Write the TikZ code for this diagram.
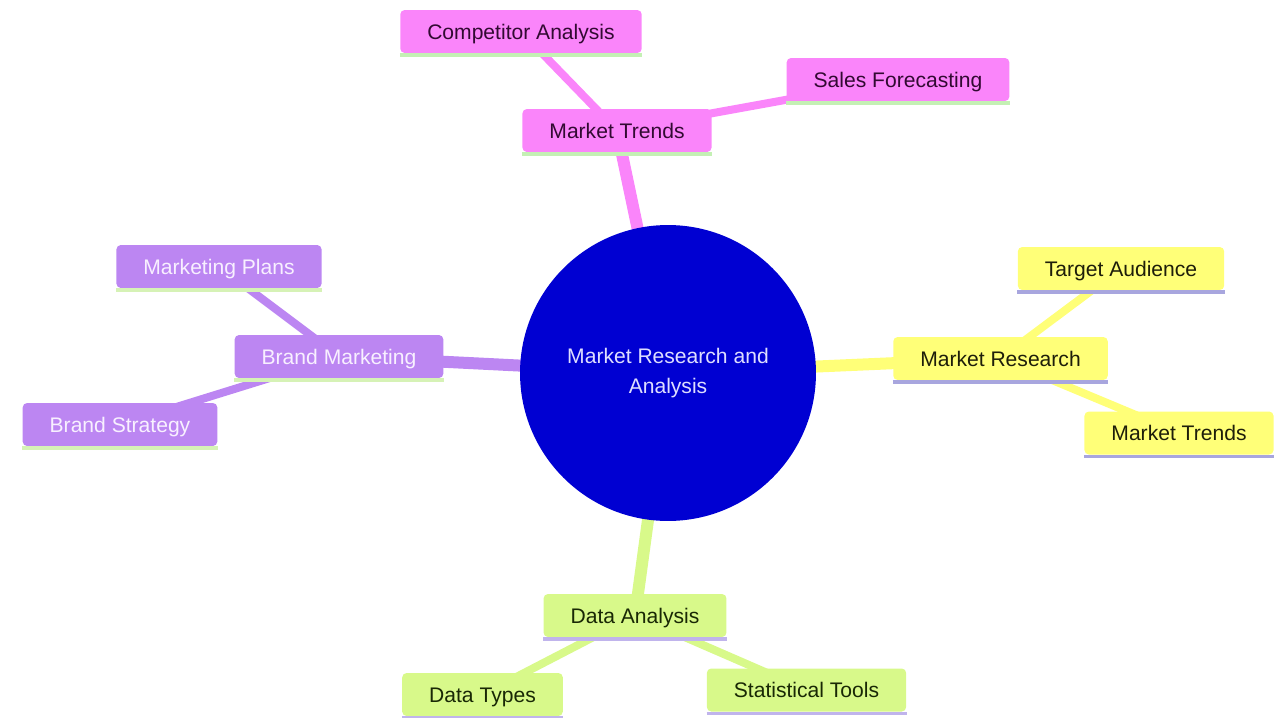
\documentclass[tikz,border=0pt]{standalone}
\usepackage{fontspec}
\setmainfont{Liberation Sans}
\usetikzlibrary{backgrounds}
\definecolor{rootblue}{RGB}{0,0,210}
\definecolor{roottext}{RGB}{222,222,255}
\definecolor{trendpink}{RGB}{250,133,250}
\definecolor{trendtext}{RGB}{50,10,50}
\definecolor{brandpurple}{RGB}{188,134,242}
\definecolor{brandtext}{RGB}{248,240,255}
\definecolor{researchyellow}{RGB}{255,255,120}
\definecolor{researchtext}{RGB}{30,30,10}
\definecolor{datagreen}{RGB}{216,249,138}
\definecolor{datatext}{RGB}{25,40,5}
\definecolor{greenline}{RGB}{196,240,180}
\definecolor{limeline}{RGB}{214,242,182}
\definecolor{blueline}{RGB}{168,166,222}
\definecolor{lilacline}{RGB}{192,180,236}
\tikzset{every node/.append style = {font=\fontsize{12}{17.5}\selectfont}}
\tikzset{topic/.style = {rectangle, rounded corners=2.5pt,
  inner xsep=0.54cm, inner ysep=0pt, minimum height=0.86cm,
  text height=8.6pt, text depth=0pt}}
\tikzset{underline/.style = {append after command={
  ([yshift=-0.035cm]\tikzlastnode.south west)
    edge[draw=#1, line width=0.07cm]
  ([yshift=-0.035cm]\tikzlastnode.south east)}}}
\tikzset{trends/.style = {topic, fill=trendpink, text=trendtext, underline=greenline},
  brand/.style = {topic, fill=brandpurple, text=brandtext, underline=limeline},
  research/.style = {topic, fill=researchyellow, text=researchtext, underline=blueline},
  data/.style = {topic, fill=datagreen, text=datatext, underline=lilacline}}
\tikzset{rootlink/.style = {line width=0.24cm},
  leaflink/.style = {line width=0.16cm}}

\begin{document}
\begin{tikzpicture}[x=0.02cm, y=-0.02cm]
  \useasboundingbox (0,0) rectangle (1274,717);
  \node[circle, fill=rootblue, text=roottext, minimum size=5.92cm,
    inner sep=0pt, align=center] (root) at (668,373)
    {Market Research and\\Analysis};
  % market trends branch
  \node[trends] (trends) at (617,130.5) {Market Trends};
  \node[trends] (competitor) at (521,31.5) {Competitor Analysis};
  \node[trends] (sales) at (898,79.5) {Sales Forecasting};
  % brand branch
  \node[brand] (brand) at (339,356.5) {Brand Marketing};
  \node[brand] (plans) at (219,266.5) {Marketing Plans};
  \node[brand] (strategy) at (120,424.5) {Brand Strategy};
  % research branch
  \node[research] (research) at (1000.5,358.5) {Market Research};
  \node[research] (audience) at (1121,268.5) {Target Audience};
  \node[research] (rtrends) at (1179,433) {Market Trends};
  % data branch
  \node[data] (analysis) at (635,615.5) {Data Analysis};
  \node[data] (types) at (482.5,694.5) {Data Types};
  \node[data] (tools) at (806.5,690) {Statistical Tools};

  \begin{scope}[on background layer]
    \draw[rootlink, trendpink] (root.center) -- (trends.center);
    \draw[leaflink, trendpink] (trends.center) -- (competitor.center);
    \draw[leaflink, trendpink] (trends.center) -- (sales.center);
    \draw[rootlink, brandpurple] (root.center) -- (brand.center);
    \draw[leaflink, brandpurple] (brand.center) -- (plans.center);
    \draw[leaflink, brandpurple] (brand.center) -- (strategy.center);
    \draw[rootlink, researchyellow] (root.center) -- (research.center);
    \draw[leaflink, researchyellow] (research.center) -- (audience.center);
    \draw[leaflink, researchyellow] (research.center) -- (rtrends.center);
    \draw[rootlink, datagreen] (root.center) -- (analysis.center);
    \draw[leaflink, datagreen] (analysis.center) -- (types.center);
    \draw[leaflink, datagreen] (analysis.center) -- (tools.center);
  \end{scope}
\end{tikzpicture}
\end{document}
